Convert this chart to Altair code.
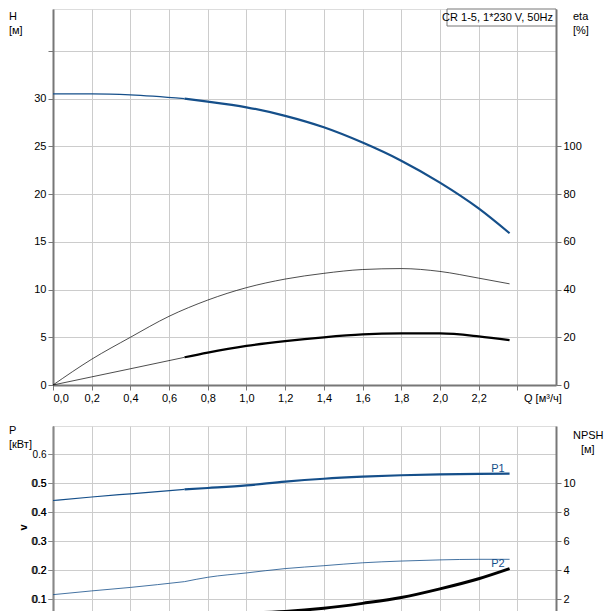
import altair as alt
import pandas as pd

# flow, m3/h
q_thin = [0.0, 0.2, 0.4, 0.68]
q_main = [0.68, 0.8, 1.0, 1.2, 1.4, 1.6, 1.8, 2.0, 2.2, 2.36]
q_eta = [0.0, 0.2, 0.4, 0.6, 0.8, 1.0, 1.2, 1.4, 1.6, 1.8, 2.0, 2.2, 2.36]

# head H, m
h_thin = [30.5, 30.5, 30.4, 30.0]
h_main = [30.0, 29.7, 29.1, 28.2, 27.0, 25.4, 23.5, 21.2, 18.5, 15.9]
# efficiency, expressed in head units (eta / 4)
eta_pump = [0.0, 2.7, 5.0, 7.2, 8.9, 10.2, 11.1, 11.7, 12.1, 12.2, 11.9, 11.2, 10.6]
eta_thin = [0.0, 0.85, 1.7, 2.9]
eta_main = [2.9, 3.4, 4.1, 4.6, 5.0, 5.3, 5.4, 5.4, 5.1, 4.7]

# power, kW
p1_thin = [0.44, 0.452, 0.463, 0.478]
p1_main = [0.478, 0.483, 0.492, 0.505, 0.515, 0.522, 0.527, 0.530, 0.532, 0.533]
p2_thin = [0.115, 0.128, 0.14, 0.16]
p2_main = [0.16, 0.175, 0.19, 0.205, 0.215, 0.225, 0.231, 0.235, 0.237, 0.237]
# NPSH, expressed in power units (NPSH / 20)
npsh_thin = [0.05, 0.05, 0.05, 0.05]
npsh_main = [0.05, 0.05, 0.052, 0.057, 0.068, 0.085, 0.105, 0.135, 0.17, 0.205]

BLUE = "#154f8a"


def rows(name, qs, vs, color, width):
    return [{"s": name, "q": a, "v": b, "c": color, "w": width} for a, b in zip(qs, vs)]


top = pd.DataFrame(
    rows("h1", q_thin, h_thin, BLUE, 1.2)
    + rows("h2", q_main, h_main, BLUE, 2.2)
    + rows("e0", q_eta, eta_pump, "#000", 0.7)
    + rows("e1", q_thin, eta_thin, "#000", 0.7)
    + rows("e2", q_main, eta_main, "#000", 2.2)
)
bot = pd.DataFrame(
    rows("p1a", q_thin, p1_thin, BLUE, 1.2)
    + rows("p1b", q_main, p1_main, BLUE, 2.2)
    + rows("p2a", q_thin, p2_thin, BLUE, 0.8)
    + rows("p2b", q_main, p2_main, BLUE, 0.8)
    + rows("na", q_thin, npsh_thin, "#000", 0.8)
    + rows("nb", q_main, npsh_main, "#000", 3)
)

grid = dict(gridColor="#cccccc", domainColor="#777", domainWidth=2, tickColor="#777",
            labelColor="#000", labelFont="Arial", labelFontSize=11)

xs = alt.Scale(domain=[0, 2.6], nice=False)
xvals = [i / 10 for i in range(0, 26, 2)]
x_top = alt.Axis(values=xvals, title=None, **grid,
                 labelExpr="datum.value > 2.3 ? '' : replace(format(datum.value, '.1f'), '.', ',')")
x_bot = alt.Axis(values=xvals, labels=False, ticks=False, title=None, **grid)


def curves(df, yscale, yaxis, xaxis):
    return alt.Chart(df).mark_line(interpolate="monotone").encode(
        x=alt.X("q:Q", scale=xs, axis=xaxis),
        y=alt.Y("v:Q", scale=yscale, axis=yaxis),
        detail="s:N",
        color=alt.Color("c:N", scale=None),
        strokeWidth=alt.StrokeWidth("w:Q", scale=None),
    )


def ghost(df, yscale, yaxis, xaxis):
    return alt.Chart(df).mark_line(opacity=0).encode(
        x=alt.X("q:Q", scale=xs, axis=xaxis),
        y=alt.Y("v:Q", scale=yscale, axis=yaxis),
        detail="s:N",
    )


def titles(items):
    # items: (text, x px, y px, align)
    df = pd.DataFrame({"t": [i[0] for i in items], "px": [i[1] for i in items], "py": [i[2] for i in items],
                       "a": [i[3] for i in items]})
    out = []
    for al in ["left", "center", "right"]:
        out.append(alt.Chart(df).transform_filter(alt.datum.a == al).mark_text(
            align=al, baseline="middle", font="Arial", fontSize=11, color="#000").encode(
            text="t:N", x=alt.X("px:Q", scale=None), y=alt.Y("py:Q", scale=None)))
    return out


ys_top = alt.Scale(domain=[0, 39.4], nice=False)
top_main = curves(top, ys_top, alt.Axis(values=[0, 5, 10, 15, 20, 25, 30, 35], title=None, **grid,
                                         labelExpr="datum.value > 30 ? '' : datum.value"), x_top)
top_right = ghost(top, ys_top, alt.Axis(orient="right", grid=False, values=[0, 5, 10, 15, 20, 25],
                                        labelExpr="datum.value * 4", title=None, **grid), x_top)
label_df = pd.DataFrame({"t": ["CR 1-5, 1*230 V, 50Hz"]})
box = alt.Chart(label_df).mark_rect(fill="white", stroke="#777", strokeWidth=1).encode(
    x=alt.value(394), x2=alt.value(503), y=alt.value(0), y2=alt.value(17))
title_box = alt.Chart(label_df).mark_text(align="right", baseline="middle", font="Arial", fontSize=11).encode(
    text="t:N", x=alt.value(500), y=alt.value(9))
top_titles = titles([("H", -44, 8, "left"), ("[м]", -44, 22, "left"), ("eta", 520, 8, "left"),
                     ("[%]", 520, 22, "left"), ("Q [м³/ч]", 471, 390, "left")])
upper = alt.layer(top_main, top_right, box, title_box, *top_titles).resolve_scale(
    y="independent").properties(width=503, height=376)

ys_bot = alt.Scale(domain=[0, 0.697], nice=False)
bot_main = curves(bot, ys_bot, alt.Axis(values=[0, 0.1, 0.2, 0.3, 0.4, 0.5, 0.6], title=None, **grid,
                                         labelExpr="datum.value > 0.55 ? '' : format(datum.value, '.1f')"), x_bot)
bot_right = ghost(bot, ys_bot, alt.Axis(orient="right", grid=False, values=[0, 0.1, 0.2, 0.3, 0.4, 0.5],
                                        labelExpr="round(datum.value * 20)", title=None, **grid), x_bot)
lab = pd.DataFrame({"q": [2.3, 2.3], "v": [0.548, 0.222], "t": ["P1", "P2"]})
labels = alt.Chart(lab).mark_text(font="Arial", fontSize=11, color=BLUE).encode(
    x=alt.X("q:Q", scale=xs), y=alt.Y("v:Q", scale=ys_bot), text="t:N")
bot_titles = titles([("P", -44, 5, "left"), ("[кВт]", -44, 19, "left"), ("NPSH", 520, 10, "left"),
                     ("[м]", 528, 24, "left")])
lower = alt.layer(bot_main, bot_right, labels, *bot_titles).resolve_scale(
    y="independent").properties(width=503, height=202)

chart = (
    alt.vconcat(upper, lower, spacing=19)
    .configure_view(stroke="#777", strokeWidth=1)
    .configure(padding={"left": 0, "top": 0, "right": 0, "bottom": 0})
)
chart.save("out.html", embed_options={"renderer": "svg", "actions": False})
